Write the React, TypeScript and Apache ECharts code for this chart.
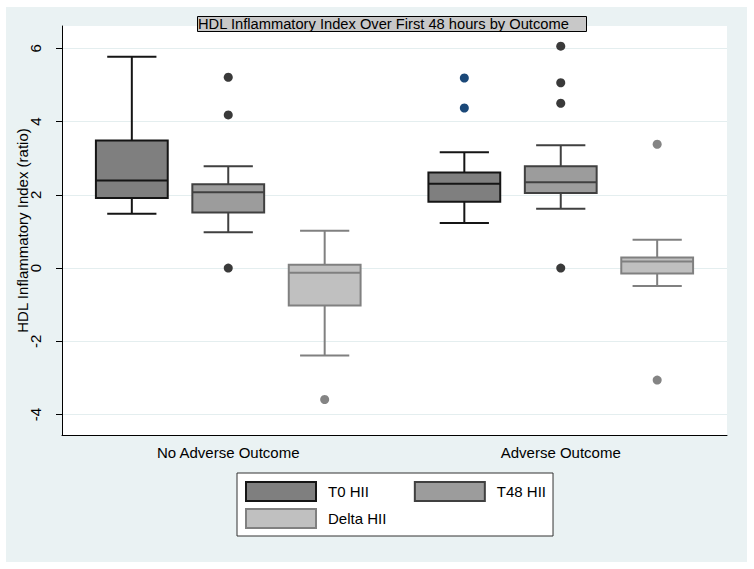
import React, { useEffect, useRef } from "react";
import * as echarts from "echarts";

const categories = ["No Adverse Outcome", "Adverse Outcome"];
const seriesNames = ["T0 HII", "T48 HII", "Delta HII"];
const yTicks = [-4, -2, 0, 2, 4, 6];

// [whisker low, Q1, median, Q3, whisker high] per category
const t0Box = [
  [1.48, 1.91, 2.39, 3.48, 5.77],
  [1.23, 1.81, 2.3, 2.61, 3.16],
];
const t48Box = [
  [0.98, 1.52, 2.07, 2.29, 2.78],
  [1.62, 2.05, 2.34, 2.78, 3.35],
];
const deltaBox = [
  [-2.39, -1.02, -0.13, 0.09, 1.02],
  [-0.49, -0.15, 0.18, 0.29, 0.77],
];

// outliers per category
const t0Out = [[], [5.19, 4.37]];
const t48Out = [[5.21, 4.18, 0], [6.06, 5.06, 4.5, 0]];
const deltaOut = [[-3.59], [3.38, -3.06]];

const FONT = "'Liberation Sans', Arial, sans-serif";

const styles = [
  { fill: "#7f7f7f", stroke: "#151515", dot: "#1b4878", offset: -0.29 },
  { fill: "#9c9c9c", stroke: "#404040", dot: "#3a3a3a", offset: 0 },
  { fill: "#c0c0c0", stroke: "#808080", dot: "#848484", offset: 0.29 },
];

const BOX_FRAC = 0.216;
const CAP_FRAC = 0.148;

function boxSeries(name: string, boxes: number[][], idx: number) {
  const st = styles[idx];
  return {
    type: "custom",
    name,
    data: boxes.map((b, i) => [i, ...b]),
    encode: { x: 0, y: [1, 2, 3, 4, 5] },
    z: 3,
    renderItem: (params: any, api: any) => {
      const cat = api.value(0);
      const band = api.size([1, 0])[0];
      const cx = api.coord([cat, 0])[0] + st.offset * band;
      const y = (v: number) => api.coord([cat, v])[1];
      const lo = y(api.value(1));
      const q1 = y(api.value(2));
      const med = y(api.value(3));
      const q3 = y(api.value(4));
      const hi = y(api.value(5));
      const hw = (BOX_FRAC * band) / 2;
      const cw = (CAP_FRAC * band) / 2;
      const ls = { stroke: st.stroke, lineWidth: 2 };
      return {
        type: "group",
        children: [
          { type: "line", shape: { x1: cx, y1: lo, x2: cx, y2: q1 }, style: ls },
          { type: "line", shape: { x1: cx, y1: q3, x2: cx, y2: hi }, style: ls },
          { type: "line", shape: { x1: cx - cw, y1: lo, x2: cx + cw, y2: lo }, style: ls },
          { type: "line", shape: { x1: cx - cw, y1: hi, x2: cx + cw, y2: hi }, style: ls },
          {
            type: "rect",
            shape: { x: cx - hw, y: q3, width: hw * 2, height: q1 - q3 },
            style: { fill: st.fill, stroke: st.stroke, lineWidth: 2 },
          },
          { type: "line", shape: { x1: cx - hw, y1: med, x2: cx + hw, y2: med }, style: ls },
        ],
      };
    },
  };
}

function outlierSeries(name: string, outs: number[][], idx: number) {
  const st = styles[idx];
  const data: number[][] = [];
  outs.forEach((arr, i) => arr.forEach((v) => data.push([i, v])));
  return {
    type: "custom",
    name,
    data,
    encode: { x: 0, y: 1 },
    z: 4,
    renderItem: (params: any, api: any) => {
      const cat = api.value(0);
      const band = api.size([1, 0])[0];
      const p = api.coord([cat, api.value(1)]);
      return {
        type: "circle",
        shape: { cx: p[0] + st.offset * band, cy: p[1], r: 4.5 },
        style: { fill: st.dot },
      };
    },
  };
}

export default function App() {
  const ref = useRef<HTMLDivElement>(null);
  useEffect(() => {
    if (!ref.current) return;
    const chart = echarts.init(ref.current, undefined, { renderer: "svg" });
    const legendItem = (i: number) => ({
      name: seriesNames[i],
      icon: "rect",
      itemStyle: { color: styles[i].fill, borderColor: styles[i].stroke, borderWidth: 2 },
    });
    chart.setOption({
      animation: false,
      backgroundColor: "#ffffff",
      textStyle: { fontFamily: FONT },
      graphic: [
        {
          type: "rect",
          z: -10,
          shape: { x: 6, y: 7, width: 741, height: 555 },
          style: { fill: "#eaf2f3" },
        },
      ],
      title: {
        text: "HDL Inflammatory Index Over First 48 hours by Outcome",
        left: 197,
        top: 16,
        padding: [0, 17, 0, 1],
        backgroundColor: "#c8c8c8",
        borderColor: "#000",
        borderWidth: 1,
        textStyle: { fontFamily: FONT, fontSize: 14.7, fontWeight: "normal", color: "#000", lineHeight: 16 },
      },
      legend: [
        {
          data: [legendItem(0), legendItem(1)],
          left: 237,
          top: 473,
          orient: "horizontal",
          padding: [8, 7, 34, 8],
          itemWidth: 70,
          itemHeight: 19,
          itemGap: 45,
          backgroundColor: "#ffffff",
          borderColor: "#333",
          borderWidth: 1,
          selectedMode: false,
          textStyle: { fontFamily: FONT, fontSize: 15, color: "#000", padding: [0, 0, 0, 7] },
        },
        {
          data: [legendItem(2)],
          left: 237,
          top: 500,
          orient: "horizontal",
          padding: [8, 8, 8, 8],
          itemWidth: 70,
          itemHeight: 19,
          selectedMode: false,
          z: 5,
          textStyle: { fontFamily: FONT, fontSize: 15, color: "#000", padding: [0, 0, 0, 7] },
        },
      ],
      grid: {
        left: 62,
        right: 27,
        top: 26,
        bottom: 134,
        show: true,
        backgroundColor: "#ffffff",
        borderWidth: 0,
      },
      xAxis: {
        type: "category",
        data: categories,
        axisLine: { onZero: false, lineStyle: { color: "#000", width: 1 } },
        axisTick: { show: false },
        axisLabel: { fontFamily: FONT, fontSize: 15, color: "#000", margin: 10 },
        splitLine: { show: false },
      },
      yAxis: {
        type: "value",
        min: -4.56,
        max: 6.61,
        name: "HDL Inflammatory Index (ratio)",
        nameLocation: "middle",
        nameGap: 32,
        nameMoveOverlap: false,
        nameTextStyle: { fontFamily: FONT, fontSize: 15, color: "#000" },
        axisLine: { show: true, lineStyle: { color: "#000", width: 1 } },
        axisTick: { show: true, length: 6, customValues: yTicks, lineStyle: { color: "#000" } },
        axisLabel: {
          customValues: yTicks,
          rotate: 90,
          fontFamily: FONT,
          fontSize: 15,
          color: "#000",
          margin: 19,
        },
        splitLine: { show: true, lineStyle: { color: "#e4eeef", width: 1 } },
      },
      series: [
        boxSeries(seriesNames[0], t0Box, 0),
        boxSeries(seriesNames[1], t48Box, 1),
        boxSeries(seriesNames[2], deltaBox, 2),
        outlierSeries(seriesNames[0], t0Out, 0),
        outlierSeries(seriesNames[1], t48Out, 1),
        outlierSeries(seriesNames[2], deltaOut, 2),
      ],
    });
    return () => chart.dispose();
  }, []);
  return (
    <div
      ref={ref}
      style={{ position: "fixed", left: 0, top: 0, width: 754, height: 569 }}
    />
  );
}
